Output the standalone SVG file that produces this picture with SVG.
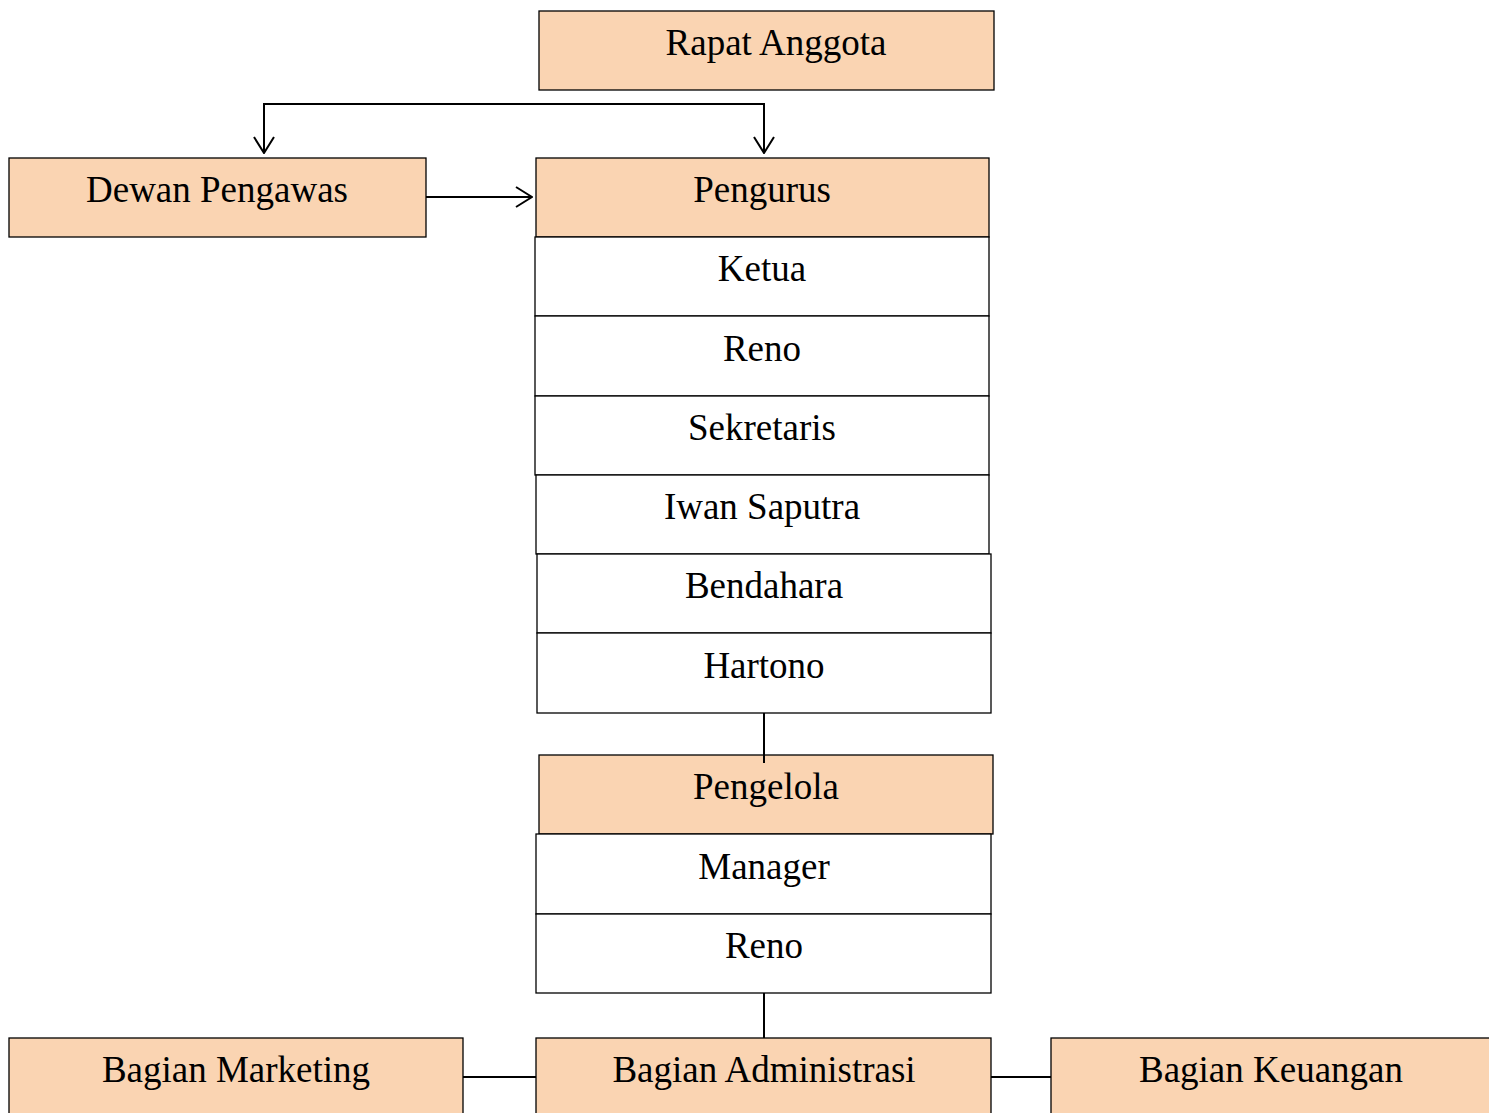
<svg xmlns="http://www.w3.org/2000/svg" width="1489" height="1113" viewBox="0 0 1489 1113">
<style>
.h{fill:#FAD4B2;stroke:#000;stroke-width:1.3}
.w{fill:#fff;stroke:#000;stroke-width:1.3}
text{font-family:"Liberation Serif","Times New Roman",serif;font-size:37px;fill:#000;text-anchor:middle}
.c{fill:none;stroke:#000;stroke-width:2}
</style>
<defs>
<marker id="a" viewBox="0 0 18 22" refX="17" refY="11" markerWidth="18" markerHeight="22" markerUnits="userSpaceOnUse" orient="auto">
<path d="M1 1 L17 11 L1 21" fill="none" stroke="#000" stroke-width="2"/>
</marker>
</defs>
<rect width="1489" height="1113" fill="#fff"/>
<g id="connectors">
<path class="c" d="M514 104 H264 V153" marker-end="url(#a)"/>
<path class="c" d="M514 104 H764 V153" marker-end="url(#a)"/>
<path class="c" d="M426 197 H532" marker-end="url(#a)"/>
<path class="c" d="M764 713 V763"/>
<path class="c" d="M764 993 V1038"/>
<path class="c" d="M463 1077 H536"/>
<path class="c" d="M991 1077 H1051"/>
</g>
<g id="rapat"><rect class="h" x="539" y="11" width="455" height="79"/><text x="776" y="55">Rapat Anggota</text></g>
<g id="dewan"><rect class="h" x="9" y="158" width="417" height="79"/><text x="217" y="202">Dewan Pengawas</text></g>
<g id="pengurus"><rect class="h" x="536" y="158" width="453" height="79"/><text x="762" y="202">Pengurus</text></g>
<g id="ketua"><rect class="w" x="535" y="237" width="454" height="79"/><text x="762" y="281">Ketua</text></g>
<g id="reno1"><rect class="w" x="535" y="316" width="454" height="80"/><text x="762" y="361">Reno</text></g>
<g id="sekretaris"><rect class="w" x="535" y="396" width="454" height="79"/><text x="762" y="440">Sekretaris</text></g>
<g id="iwan"><rect class="w" x="536" y="475" width="453" height="79"/><text x="762" y="519">Iwan Saputra</text></g>
<g id="bendahara"><rect class="w" x="537" y="554" width="454" height="79"/><text x="764" y="598">Bendahara</text></g>
<g id="hartono"><rect class="w" x="537" y="633" width="454" height="80"/><text x="764" y="678">Hartono</text></g>
<g id="pengelola"><rect class="h" x="539" y="755" width="454" height="79"/><text x="766" y="799">Pengelola</text></g>
<path class="c" d="M764 755 V763"/>
<g id="manager"><rect class="w" x="536" y="834" width="455" height="80"/><text x="764" y="879">Manager</text></g>
<g id="reno2"><rect class="w" x="536" y="914" width="455" height="79"/><text x="764" y="958">Reno</text></g>
<g id="marketing"><rect class="h" x="9" y="1038" width="454" height="90"/><text x="236" y="1082">Bagian Marketing</text></g>
<g id="administrasi"><rect class="h" x="536" y="1038" width="455" height="90"/><text x="764" y="1082">Bagian Administrasi</text></g>
<g id="keuangan"><rect class="h" x="1051" y="1038" width="450" height="90"/><text x="1271" y="1082">Bagian Keuangan</text></g>
</svg>
